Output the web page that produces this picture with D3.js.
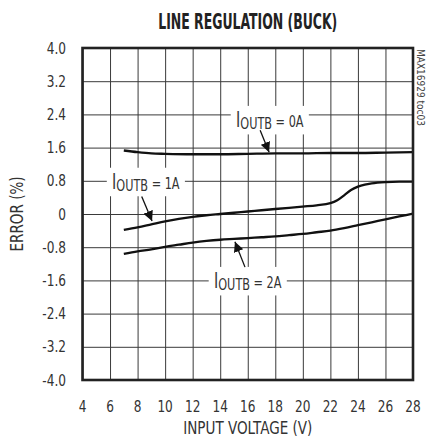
<!DOCTYPE html>
<html>
<head>
<meta charset="utf-8">
<script src="https://cdn.jsdelivr.net/npm/d3@7"></script>
<style>
  body { margin: 0; background: #fff; }
  text { font-family: "Liberation Sans Narrow", "DejaVu Sans Condensed", "DejaVu Sans", sans-serif; }
</style>
</head>
<body>
<div class="chart"></div>
<script>
// data
const xTicks = [4, 6, 8, 10, 12, 14, 16, 18, 20, 22, 24, 26, 28]
const yTicks = [-4.0, -3.2, -2.4, -1.6, -0.8, 0, 0.8, 1.6, 2.4, 3.2, 4.0]
const yTickLabels = ["-4.0", "-3.2", "-2.4", "-1.6", "-0.8", "0", "0.8", "1.6", "2.4", "3.2", "4.0"]

const vin0A = [7, 8, 9, 10, 12, 14, 16, 18, 20, 22, 24, 26, 28]
const err0A = [1.53, 1.49, 1.46, 1.45, 1.44, 1.44, 1.45, 1.46, 1.46, 1.47, 1.47, 1.48, 1.49]

const vin1A = [7, 8, 9, 10, 11, 12, 13, 14, 15, 16, 17, 18, 19, 20, 21, 22, 22.5, 23, 23.5, 24, 24.5, 25, 26, 27, 28]
const err1A = [-0.38, -0.32, -0.25, -0.18, -0.12, -0.07, -0.03, 0.0, 0.03, 0.06, 0.09, 0.12, 0.15, 0.18, 0.21, 0.26, 0.33, 0.45, 0.58, 0.66, 0.71, 0.74, 0.77, 0.78, 0.78]

const vin2A = [7, 8, 9, 10, 11, 12, 13, 14, 15, 16, 17, 18, 19, 20, 21, 22, 23, 24, 25, 26, 27, 28]
const err2A = [-0.96, -0.90, -0.85, -0.79, -0.74, -0.69, -0.65, -0.62, -0.60, -0.58, -0.56, -0.54, -0.51, -0.48, -0.44, -0.40, -0.34, -0.27, -0.20, -0.13, -0.06, 0.01]

// annotation: label, label pos, arrow tail, arrow tip (data units)
const notes = [
  {val: "0A", lx: 17.6, ly: 2.24, tx: 16.9, ty: 2.02, hx: 17.55, hy: 1.49},
  {val: "1A", lx: 8.6, ly: 0.75, tx: 8.3, ty: 0.42, hx: 9.05, hy: -0.17},
  {val: "2A", lx: 16.0, ly: -1.64, tx: 15.8, ty: -1.28, hx: 15.07, hy: -0.67}
]

const w = 426
const h = 441
const padL = 82.5, padR = 413, padT = 48, padB = 380
const narrow = 0.87  // fake a condensed face

const svg = d3.select(".chart")
  .append("svg")
  .attr("width", w)
  .attr("height", h)

const xScale = d3.scaleLinear().domain([4, 28]).range([padL, padR])
const yScale = d3.scaleLinear().domain([-4, 4]).range([padB, padT])

// text squeezed sideways round its anchor point
const squeezed = (parent, x, y, sx, rot) =>
  parent.append("g")
    .attr("transform", "translate(" + x + "," + y + ")" + (rot ? " rotate(" + rot + ")" : "") + " scale(" + sx + ",1)")
    .append("text")

// grid
svg.append("g")
  .attr("transform", "translate(0," + padB + ")")
  .call(d3.axisBottom(xScale).tickValues(xTicks).tickSize(-(padB - padT)).tickFormat(""))
  .call(g => g.select(".domain").remove())
  .call(g => g.selectAll("line").attr("stroke", "#3a3a3a").attr("stroke-width", 1))

svg.append("g")
  .attr("transform", "translate(" + padL + ",0)")
  .call(d3.axisLeft(yScale).tickValues(yTicks).tickSize(-(padR - padL)).tickFormat(""))
  .call(g => g.select(".domain").remove())
  .call(g => g.selectAll("line").attr("stroke", "#3a3a3a").attr("stroke-width", 1))

// tick labels
yTicks.forEach((d, i) => {
  squeezed(svg, 66, yScale(d) + 5.5, narrow)
    .attr("text-anchor", "end")
    .attr("font-size", 15.5)
    .attr("fill", "#333")
    .text(yTickLabels[i])
})

xTicks.forEach(d => {
  squeezed(svg, xScale(d), padB + 32, narrow)
    .attr("text-anchor", "middle")
    .attr("font-size", 15.5)
    .attr("fill", "#333")
    .text(d)
})

// curves
const line = d3.line()
  .x(d => xScale(d[0]))
  .y(d => yScale(d[1]))
  .curve(d3.curveMonotoneX)

const series = [
  d3.zip(vin0A, err0A),
  d3.zip(vin1A, err1A),
  d3.zip(vin2A, err2A)
]
svg.selectAll(".curve")
  .data(series)
  .enter()
  .append("path")
  .attr("class", "curve")
  .attr("d", line)
  .attr("fill", "none")
  .attr("stroke", "#111")
  .attr("stroke-width", 2.3)

// arrow head
svg.append("defs").append("marker")
  .attr("id", "head")
  .attr("viewBox", "0 0 10 10")
  .attr("refX", 10).attr("refY", 5)
  .attr("markerWidth", 10).attr("markerHeight", 10)
  .attr("markerUnits", "userSpaceOnUse")
  .attr("orient", "auto")
  .append("path")
  .attr("d", "M0,0 L10,5 L0,10 z")
  .attr("fill", "#111")

// labels
notes.forEach(n => {
  const t = squeezed(svg, xScale(n.lx), yScale(n.ly) + 6, 0.76)
    .attr("text-anchor", "middle")
    .attr("font-size", 16.5)
    .attr("fill", "#333")
  t.append("tspan").attr("font-size", 21).text("I")
  t.append("tspan").attr("dy", 2).text("OUTB")
  t.append("tspan").attr("dy", -2).text(" = " + n.val)
  const bb = t.node().getBBox()
  d3.select(t.node().parentNode).insert("rect", "text")
    .attr("x", bb.x - 7)
    .attr("y", bb.y - 2)
    .attr("width", bb.width + 14)
    .attr("height", bb.height + 4)
    .attr("fill", "#fff")
  svg.append("line")
    .attr("x1", xScale(n.tx)).attr("y1", yScale(n.ty))
    .attr("x2", xScale(n.hx)).attr("y2", yScale(n.hy))
    .attr("stroke", "#111")
    .attr("stroke-width", 1.3)
    .attr("marker-end", "url(#head)")
})

// frame
svg.append("rect")
  .attr("x", padL).attr("y", padT)
  .attr("width", padR - padL).attr("height", padB - padT)
  .attr("fill", "none")
  .attr("stroke", "#222")
  .attr("stroke-width", 2.6)

// titles
squeezed(svg, (padL + padR) / 2, 29, 0.66)
  .attr("text-anchor", "middle")
  .attr("font-size", 21)
  .attr("font-weight", "bold")
  .attr("fill", "#222")
  .text("LINE REGULATION (BUCK)")

squeezed(svg, (padL + padR) / 2, 434, 0.86)
  .attr("text-anchor", "middle")
  .attr("font-size", 17.5)
  .attr("fill", "#333")
  .text("INPUT VOLTAGE (V)")

squeezed(svg, 23, yScale(0), 0.86, -90)
  .attr("text-anchor", "middle")
  .attr("font-size", 17.5)
  .attr("fill", "#333")
  .text("ERROR (%)")

squeezed(svg, 417, 49, 1.0, 90)
  .attr("text-anchor", "start")
  .attr("font-size", 10)
  .attr("fill", "#444")
  .text("MAX16929 toc03")
</script>
</body>
</html>
